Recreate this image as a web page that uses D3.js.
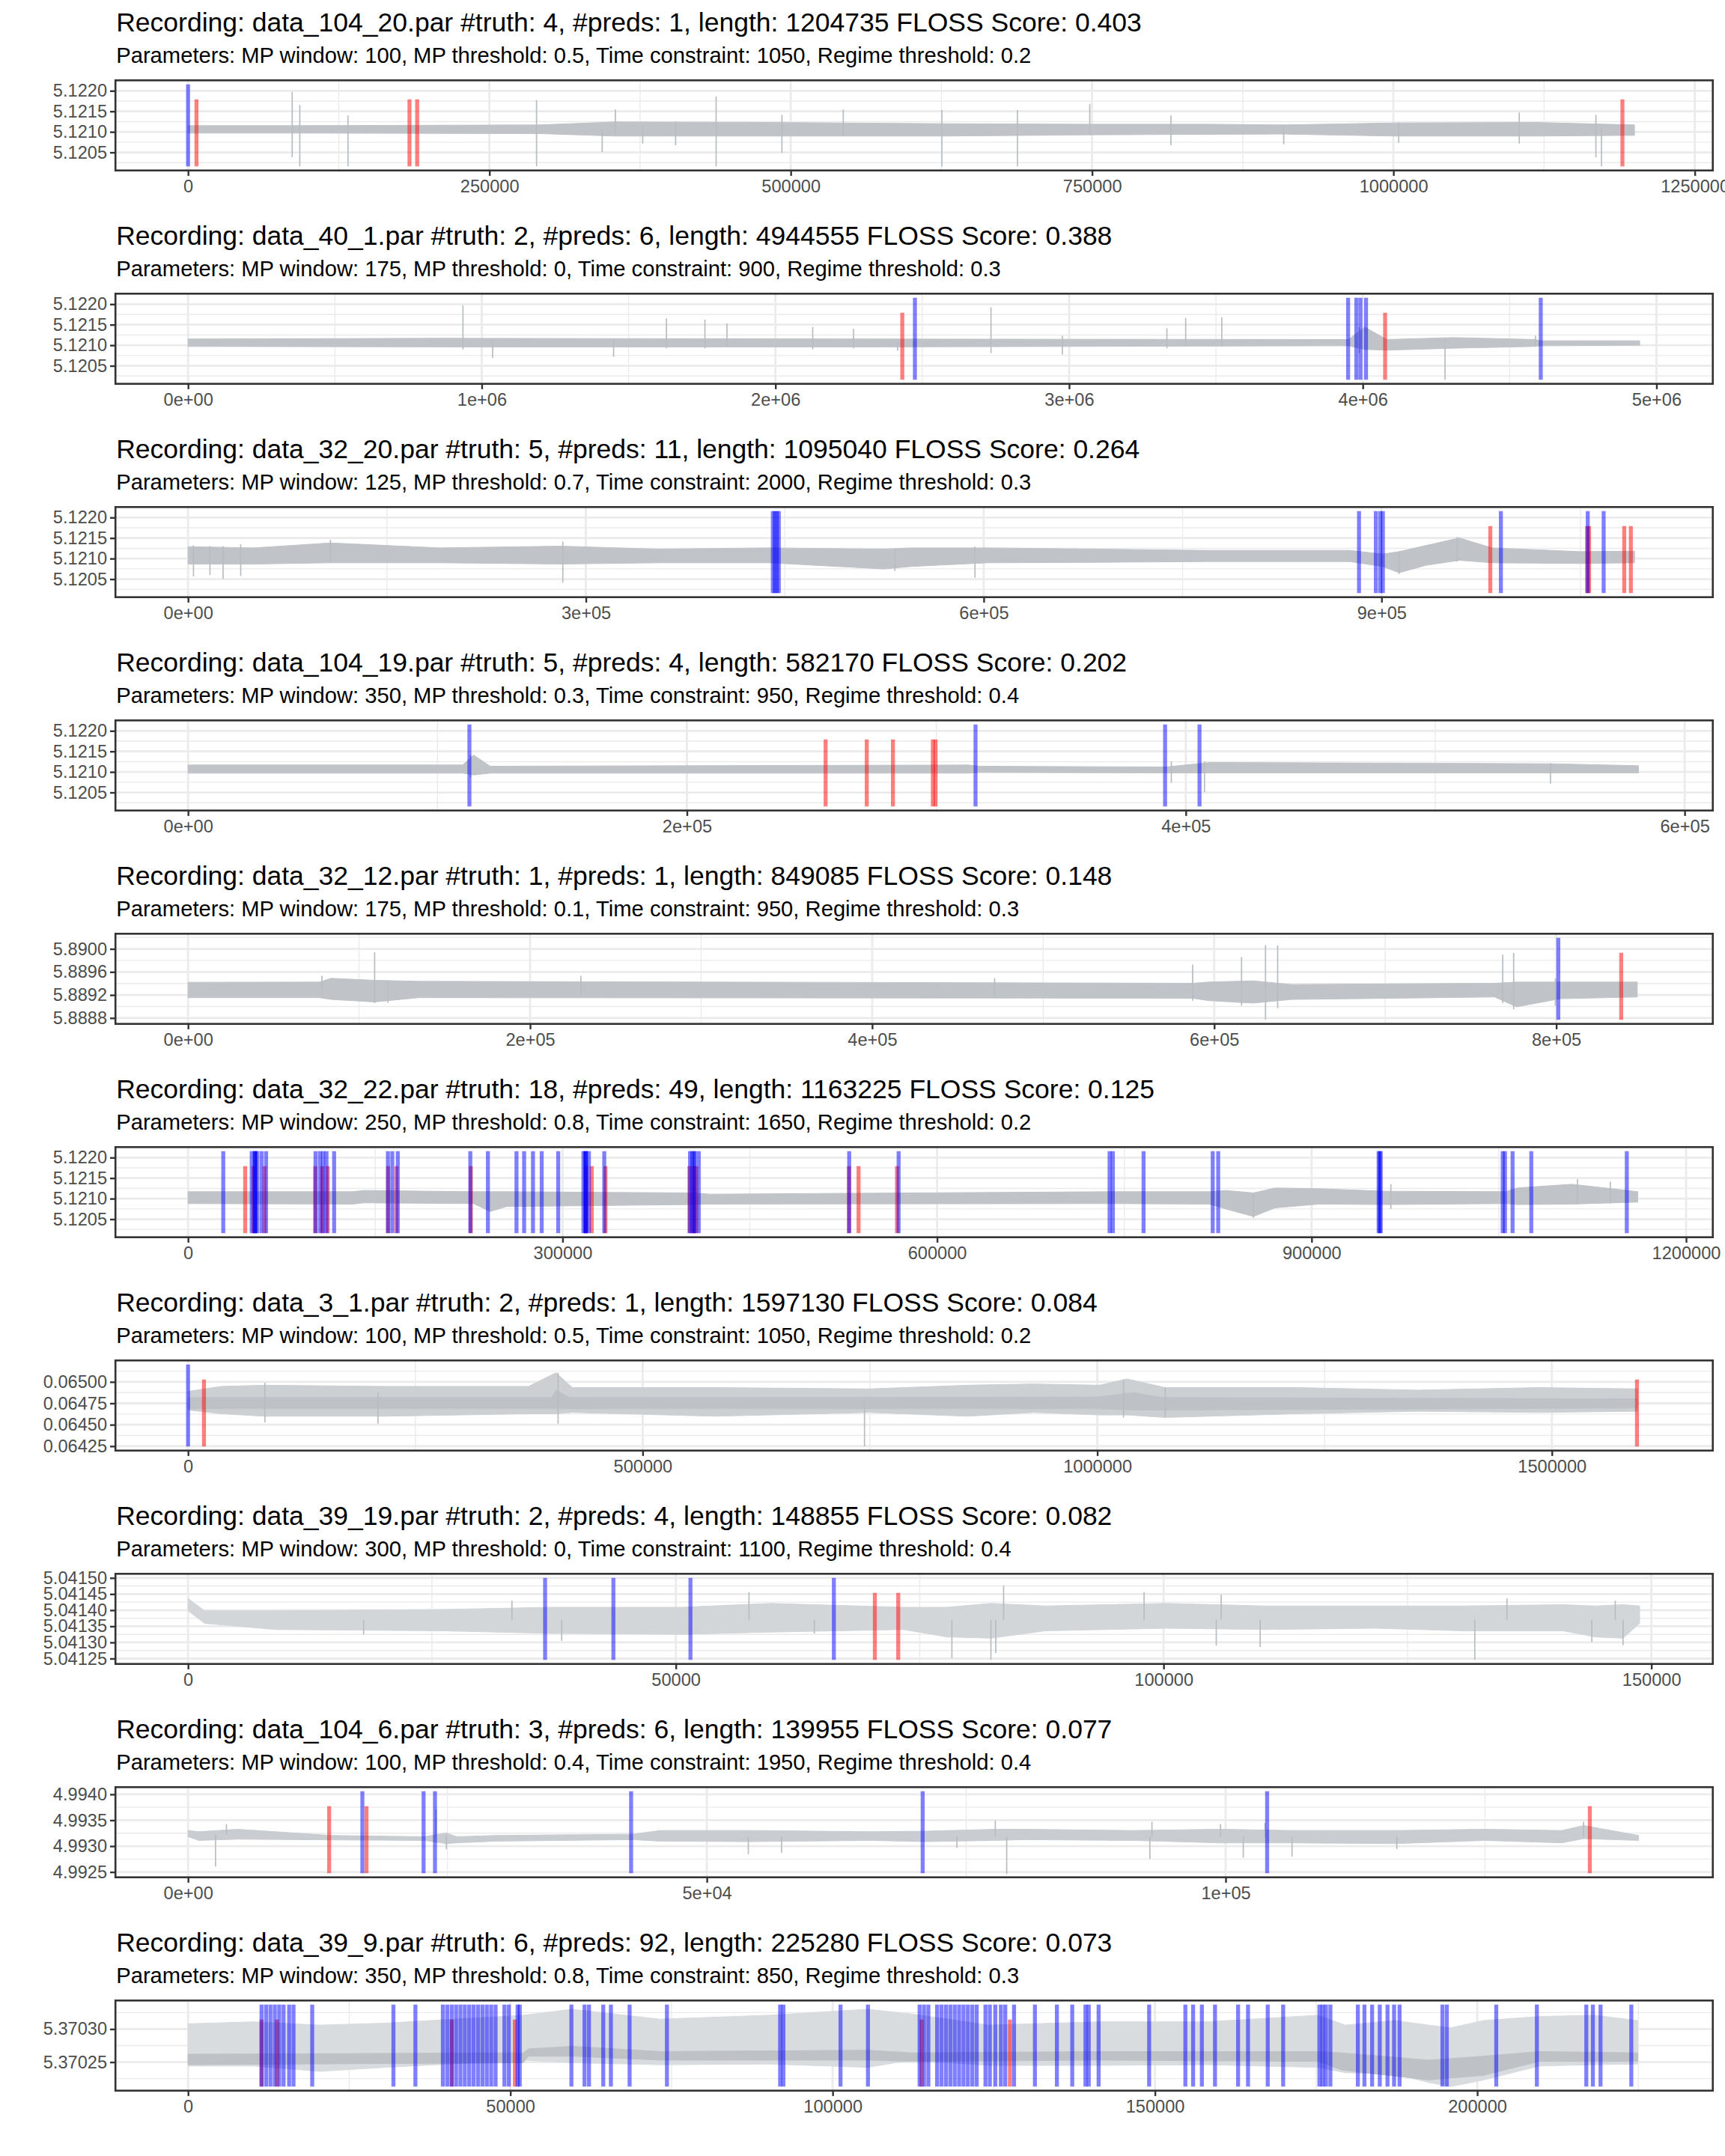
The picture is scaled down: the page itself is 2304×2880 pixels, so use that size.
<!DOCTYPE html>
<html><head><meta charset="utf-8">
<script src="https://cdn.jsdelivr.net/npm/d3@7"></script>
<style>html,body{margin:0;padding:0;background:#fff}svg{display:block}</style>
</head><body>
<svg id="chart" width="2304" height="2880"></svg>
<script>
// ---------------- DATA ----------------
const titles = [
 "Recording: data_104_20.par #truth: 4, #preds: 1, length: 1204735 FLOSS Score: 0.403",
 "Recording: data_40_1.par #truth: 2, #preds: 6, length: 4944555 FLOSS Score: 0.388",
 "Recording: data_32_20.par #truth: 5, #preds: 11, length: 1095040 FLOSS Score: 0.264",
 "Recording: data_104_19.par #truth: 5, #preds: 4, length: 582170 FLOSS Score: 0.202",
 "Recording: data_32_12.par #truth: 1, #preds: 1, length: 849085 FLOSS Score: 0.148",
 "Recording: data_32_22.par #truth: 18, #preds: 49, length: 1163225 FLOSS Score: 0.125",
 "Recording: data_3_1.par #truth: 2, #preds: 1, length: 1597130 FLOSS Score: 0.084",
 "Recording: data_39_19.par #truth: 2, #preds: 4, length: 148855 FLOSS Score: 0.082",
 "Recording: data_104_6.par #truth: 3, #preds: 6, length: 139955 FLOSS Score: 0.077",
 "Recording: data_39_9.par #truth: 6, #preds: 92, length: 225280 FLOSS Score: 0.073"
];
const subtitles = [
 "Parameters: MP window: 100, MP threshold: 0.5, Time constraint: 1050, Regime threshold: 0.2",
 "Parameters: MP window: 175, MP threshold: 0, Time constraint: 900, Regime threshold: 0.3",
 "Parameters: MP window: 125, MP threshold: 0.7, Time constraint: 2000, Regime threshold: 0.3",
 "Parameters: MP window: 350, MP threshold: 0.3, Time constraint: 950, Regime threshold: 0.4",
 "Parameters: MP window: 175, MP threshold: 0.1, Time constraint: 950, Regime threshold: 0.3",
 "Parameters: MP window: 250, MP threshold: 0.8, Time constraint: 1650, Regime threshold: 0.2",
 "Parameters: MP window: 100, MP threshold: 0.5, Time constraint: 1050, Regime threshold: 0.2",
 "Parameters: MP window: 300, MP threshold: 0, Time constraint: 1100, Regime threshold: 0.4",
 "Parameters: MP window: 100, MP threshold: 0.4, Time constraint: 1950, Regime threshold: 0.4",
 "Parameters: MP window: 350, MP threshold: 0.8, Time constraint: 850, Regime threshold: 0.3"
];
const lengths = [1204735, 4944555, 1095040, 582170, 849085, 1163225, 1597130, 148855, 139955, 225280];
// value range covered by the change-point markers
const yLims = [
 [5.12016, 5.122155], [5.12016, 5.122155], [5.12016, 5.122155], [5.12016, 5.122155],
 [5.888769, 5.890192], [5.12016, 5.122155], [0.064246, 0.065202],
 [5.041246, 5.0415], [4.992477, 4.994059], [5.370213, 5.370337]
];
const yTicks = [
 [5.1205, 5.121, 5.1215, 5.122], [5.1205, 5.121, 5.1215, 5.122], [5.1205, 5.121, 5.1215, 5.122],
 [5.1205, 5.121, 5.1215, 5.122], [5.8888, 5.8892, 5.8896, 5.89], [5.1205, 5.121, 5.1215, 5.122],
 [0.06425, 0.0645, 0.06475, 0.065], [5.04125, 5.0413, 5.04135, 5.0414, 5.04145, 5.0415],
 [4.9925, 4.993, 4.9935, 4.994], [5.37025, 5.3703]
];
const yTickLabels = [
 ["5.1205","5.1210","5.1215","5.1220"], ["5.1205","5.1210","5.1215","5.1220"], ["5.1205","5.1210","5.1215","5.1220"],
 ["5.1205","5.1210","5.1215","5.1220"], ["5.8888","5.8892","5.8896","5.8900"], ["5.1205","5.1210","5.1215","5.1220"],
 ["0.06425","0.06450","0.06475","0.06500"], ["5.04125","5.04130","5.04135","5.04140","5.04145","5.04150"],
 ["4.9925","4.9930","4.9935","4.9940"], ["5.37025","5.37030"]
];
const xTicks = [
 [0, 250000, 500000, 750000, 1000000, 1250000], [0, 1e6, 2e6, 3e6, 4e6, 5e6], [0, 3e5, 6e5, 9e5],
 [0, 2e5, 4e5, 6e5], [0, 2e5, 4e5, 6e5, 8e5], [0, 300000, 600000, 900000, 1200000],
 [0, 500000, 1000000, 1500000], [0, 50000, 100000, 150000], [0, 5e4, 1e5], [0, 50000, 100000, 150000, 200000]
];
const xTickLabels = [
 ["0","250000","500000","750000","1000000","1250000"], ["0e+00","1e+06","2e+06","3e+06","4e+06","5e+06"],
 ["0e+00","3e+05","6e+05","9e+05"], ["0e+00","2e+05","4e+05","6e+05"], ["0e+00","2e+05","4e+05","6e+05","8e+05"],
 ["0","300000","600000","900000","1200000"], ["0","500000","1000000","1500000"], ["0","50000","100000","150000"],
 ["0e+00","5e+04","1e+05"], ["0","50000","100000","150000","200000"]
];

// signal envelopes (sample position, lower value, upper value)
const sigX1 = [0, 81800, 290900, 354500, 481800, 627200, 745400, 845400, 909000, 1000000, 1118000, 1200000];
const sigLo1 = [5.12097, 5.12097, 5.120958, 5.120897, 5.120897, 5.120897, 5.120927, 5.12094, 5.120946, 5.120897, 5.120897, 5.120915];
const sigHi1 = [5.121151, 5.121151, 5.121169, 5.121242, 5.12123, 5.1212, 5.121187, 5.121187, 5.121169, 5.121218, 5.12123, 5.121169];
const spkX1 = [86400, 92700, 132700, 289100, 343600, 354500, 377200, 404500, 438100, 492700, 543600, 625400, 688100, 748100, 815400, 909000, 1004400, 1104400, 1168000, 1172600];
const spkLo1 = [5.120383, 5.12016, 5.12016, 5.12016, 5.120504, 5.12093, 5.120716, 5.120674, 5.12016, 5.120492, 5.120897, 5.12016, 5.12016, 5.120927, 5.120674, 5.120698, 5.120734, 5.120716, 5.120383, 5.12016];
const spkHi1 = [5.121973, 5.121653, 5.121399, 5.121774, 5.12105, 5.121544, 5.12117, 5.12126, 5.121865, 5.121411, 5.121544, 5.121532, 5.121532, 5.121683, 5.121399, 5.12117, 5.12123, 5.121472, 5.121411, 5.121109];
const preds1 = [0];
const truth1 = [7000, 183700, 190100, 1190000];

const sigX2 = [0, 861000, 2359000, 3951000, 4007000, 4082000, 4307000, 4588000, 4606000, 4943000];
const sigLo2 = [5.12097, 5.120958, 5.120958, 5.120988, 5.120897, 5.120879, 5.120927, 5.12097, 5.120988, 5.1210];
const sigHi2 = [5.121151, 5.121169, 5.121151, 5.121139, 5.121441, 5.121139, 5.121187, 5.121139, 5.121109, 5.121109];
const spkX2 = [936000, 1037000, 1449000, 1629000, 1760000, 1835000, 2127000, 2266000, 2416000, 2734000, 2977000, 3333000, 3397000, 3520000, 3988000, 4280000, 4588000];
const spkLo2 = [5.120897, 5.120686, 5.120716, 5.120927, 5.120927, 5.12097, 5.120897, 5.120927, 5.120867, 5.120807, 5.120776, 5.120927, 5.12097, 5.12097, 5.120807, 5.12016, 5.12097];
const spkHi2 = [5.121973, 5.121109, 5.121139, 5.121653, 5.121623, 5.121532, 5.121441, 5.121399, 5.121109, 5.121925, 5.12123, 5.121411, 5.121665, 5.121683, 5.121441, 5.121169, 5.12123];
const preds2 = [2475000, 3950000, 3978000, 3992000, 4011000, 4606000];
const truth2 = [2432000, 4076000];

const sigX3 = [0, 49600, 107400, 190100, 281000, 355400, 438000, 524800, 545400, 603300, 686000, 768600, 876000, 900800, 913200, 933800, 958700, 983400, 1049500, 1090800];
const sigLo3 = [5.120867, 5.120867, 5.120897, 5.120897, 5.120867, 5.120897, 5.120897, 5.120746, 5.120807, 5.120897, 5.120909, 5.120927, 5.120927, 5.120807, 5.120655, 5.120837, 5.120958, 5.120897, 5.120879, 5.120897];
const sigHi3 = [5.12129, 5.12126, 5.121381, 5.12126, 5.121302, 5.12123, 5.12126, 5.12123, 5.12126, 5.12126, 5.12123, 5.1212, 5.1212, 5.121109, 5.121169, 5.12132, 5.121502, 5.12126, 5.121169, 5.121181];
const spkX3 = [4100, 16500, 26400, 39700, 107400, 282600, 533000, 593400, 913200, 957000];
const spkLo3 = [5.120565, 5.120595, 5.120504, 5.120577, 5.120897, 5.120414, 5.120698, 5.120534, 5.120625, 5.120927];
const spkHi3 = [5.12132, 5.121302, 5.121302, 5.121351, 5.121459, 5.121411, 5.12123, 5.12129, 5.121169, 5.12152];
const preds3 = [441000, 442500, 444000, 445500, 883000, 895700, 899000, 901000, 990000, 1055500, 1067500];
const truth3 = [982000, 1055000, 1056500, 1083000, 1088000];

const sigX4 = [0, 110100, 114500, 121100, 312800, 317200, 392000, 409700, 546200, 581500];
const sigLo4 = [5.12097, 5.12097, 5.120927, 5.12097, 5.12097, 5.120988, 5.120976, 5.120976, 5.120976, 5.120976];
const sigHi4 = [5.121169, 5.121169, 5.121411, 5.121139, 5.121169, 5.121139, 5.121121, 5.12123, 5.1212, 5.121151];
const spkX4 = [113200, 394200, 407500, 546200];
const spkLo4 = [5.120867, 5.120734, 5.120504, 5.120716];
const spkHi4 = [5.121411, 5.12126, 5.12126, 5.121212];
const preds4 = [112800, 315700, 391700, 405500];
const truth4 = [255600, 272100, 282600, 298600, 299700];

const sigX5 = [0, 77000, 83500, 109100, 134800, 587400, 597000, 622700, 645200, 764000, 776800, 802500, 847400];
const sigLo5 = [5.889153, 5.889153, 5.889122, 5.889079, 5.889153, 5.889144, 5.889101, 5.889058, 5.889122, 5.889165, 5.888993, 5.889135, 5.889165];
const sigHi5 = [5.88942, 5.889424, 5.889489, 5.889455, 5.889437, 5.889403, 5.889424, 5.889446, 5.889381, 5.889403, 5.889424, 5.889424, 5.889424];
const spkX5 = [78300, 109100, 116800, 229700, 471600, 587400, 616000, 630000, 637100, 768700, 775100, 799500];
const spkLo5 = [5.88923, 5.889058, 5.889066, 5.88923, 5.889165, 5.889101, 5.889014, 5.888769, 5.888971, 5.889058, 5.88895, 5.889014];
const spkHi5 = [5.889532, 5.889942, 5.889446, 5.889532, 5.889489, 5.889726, 5.889856, 5.890063, 5.890059, 5.889899, 5.889929, 5.889489];
const preds5 = [801200];
const truth5 = [838000];

const sigX6 = [0, 132000, 140800, 228700, 242000, 255100, 404700, 417900, 739000, 818200, 831400, 853400, 870800, 906200, 959000, 1055700, 1064600, 1108500, 1161300];
const sigLo6 = [5.120879, 5.120867, 5.120897, 5.120879, 5.120686, 5.120807, 5.120855, 5.120867, 5.120879, 5.120867, 5.120746, 5.120565, 5.120776, 5.120867, 5.120855, 5.120879, 5.120855, 5.120867, 5.120915];
const sigHi6 = [5.121169, 5.121169, 5.1212, 5.121169, 5.121169, 5.121169, 5.121139, 5.121109, 5.121169, 5.121169, 5.1212, 5.121139, 5.12126, 5.121242, 5.121181, 5.121169, 5.12126, 5.121351, 5.121169];
const spkX6 = [853400, 963500, 1113000, 1139300];
const spkLo6 = [5.120534, 5.120746, 5.120867, 5.120879];
const spkHi6 = [5.121139, 5.121351, 5.121472, 5.121411];
const preds6 = [28200, 51000, 53400, 53700, 54000, 55400, 58900, 62500, 102100, 105600, 108200, 110900, 117000, 160100, 163600, 168000, 226100, 240200, 263100, 269200, 276300, 283300, 296500, 316700, 318200, 318500, 318800, 321100, 333400, 402100, 403800, 405300, 405900, 409100, 529600, 569200, 738200, 740800, 765400, 820800, 825200, 953700, 954600, 955400, 1053100, 1054900, 1061000, 1076000, 1152500];
const truth6 = [45750, 52400, 61200, 101900, 107400, 111900, 160300, 166900, 226500, 319000, 323400, 334400, 401600, 404900, 407100, 529400, 537100, 567900];

const sigX7 = [0, 36200, 84500, 217400, 374400, 404600, 422700, 579700, 748800, 857500, 930000, 1002400, 1032600, 1074800, 1219800, 1352600, 1485400, 1594200];
const sigLo7 = [0.064672, 0.064628, 0.064599, 0.064599, 0.064628, 0.064628, 0.064643, 0.064599, 0.064643, 0.064599, 0.064643, 0.064614, 0.064614, 0.064585, 0.064628, 0.064657, 0.064643, 0.064657];
const sigHi7 = [0.064889, 0.064947, 0.064961, 0.064947, 0.064947, 0.065106, 0.064933, 0.064933, 0.064918, 0.064961, 0.064976, 0.064961, 0.065034, 0.064933, 0.064933, 0.064904, 0.064933, 0.064918];
const coreX7 = [0, 400000, 404600, 420000, 1000000, 1040000, 1070000, 1594200];
const coreLo7 = [0.064686, 0.064686, 0.064686, 0.064686, 0.064686, 0.064672, 0.064672, 0.064695];
const coreHi7 = [0.064817, 0.064817, 0.064904, 0.064817, 0.064822, 0.064875, 0.064817, 0.064802];
const spkX7 = [84500, 208900, 407000, 744000, 1028900, 1074800];
const spkLo7 = [0.064527, 0.064512, 0.064512, 0.064246, 0.064585, 0.064585];
const spkHi7 = [0.06499, 0.064875, 0.065106, 0.064788, 0.065025, 0.064933];
const preds7 = [0];
const truth7 = [17500, 1593600];

const sigX8 = [0, 1700, 9000, 25900, 37200, 50700, 59700, 73300, 77800, 82300, 87900, 100300, 110400, 121700, 130700, 140900, 144300, 147100, 148800];
const sigLo8 = [5.041398, 5.041359, 5.04134, 5.041336, 5.041328, 5.041325, 5.041332, 5.04134, 5.041317, 5.041313, 5.041336, 5.041344, 5.04134, 5.041344, 5.041336, 5.041336, 5.041317, 5.041313, 5.041359];
const sigHi8 = [5.041436, 5.041398, 5.041398, 5.041402, 5.041409, 5.041409, 5.041421, 5.041409, 5.041409, 5.041421, 5.041413, 5.041421, 5.041413, 5.041413, 5.041413, 5.041417, 5.041413, 5.041417, 5.041413];
const spkX8 = [33200, 57500, 83600, 98000, 105900, 135200, 146300, 78300, 82300, 82800, 105400, 109900, 131900, 143900, 147100, 64200, 18000, 38300];
const spkLo8 = [5.04137, 5.04137, 5.04137, 5.04137, 5.04137, 5.04137, 5.04137, 5.041251, 5.041246, 5.041267, 5.04129, 5.041286, 5.041246, 5.041301, 5.041291, 5.041328, 5.041325, 5.041305];
const spkHi8 = [5.041429, 5.041456, 5.041477, 5.041456, 5.041448, 5.041436, 5.041429, 5.04137, 5.04137, 5.04137, 5.04137, 5.04137, 5.04137, 5.04137, 5.04137, 5.04137, 5.04137, 5.04137];
const preds8 = [36600, 43600, 51500, 66200];
const truth8 = [70400, 72800];

const sigX9 = [0, 1060, 4800, 13800, 22800, 24900, 25900, 29700, 42900, 45500, 54000, 65700, 71000, 77800, 80500, 91100, 99500, 106400, 116500, 125000, 132400, 134500, 139800];
const sigLo9 = [4.993182, 4.99311, 4.993134, 4.99312, 4.99311, 4.993048, 4.993062, 4.993096, 4.993125, 4.993096, 4.993086, 4.99311, 4.993086, 4.99311, 4.993125, 4.99311, 4.993062, 4.993062, 4.993048, 4.99311, 4.993062, 4.993144, 4.99311];
const sigHi9 = [4.993302, 4.993278, 4.993326, 4.993206, 4.993182, 4.993254, 4.993182, 4.993206, 4.99323, 4.993302, 4.993302, 4.993278, 4.993288, 4.993326, 4.993326, 4.993302, 4.993326, 4.993302, 4.993302, 4.993326, 4.993302, 4.993398, 4.993206];
const spkX9 = [2650, 3700, 23900, 24900, 54000, 57200, 74100, 77800, 78900, 92700, 92900, 101700, 99500, 103800, 106400, 116500, 134500];
const spkLo9 = [4.992607, 4.99323, 4.993182, 4.992942, 4.992847, 4.992871, 4.992966, 4.99318, 4.992463, 4.992751, 4.99318, 4.992775, 4.99318, 4.99318, 4.992799, 4.992942, 4.99318];
const spkHi9 = [4.99323, 4.993422, 4.99371, 4.993206, 4.99318, 4.99318, 4.99318, 4.993494, 4.99318, 4.99318, 4.99347, 4.99318, 4.993422, 4.993446, 4.99318, 4.99318, 4.99347];
const preds9 = [16800, 22700, 23800, 42700, 70800, 104000];
const truth9 = [13600, 17200, 135100];

const sigX10 = [0, 10200, 20400, 30600, 52000, 59600, 73200, 90200, 105400, 112200, 124200, 141100, 158100, 175300, 179500, 187200, 192500, 195900, 201000, 209600, 218100, 224900];
const sigLo10 = [5.370244, 5.370244, 5.370236, 5.370242, 5.370253, 5.370249, 5.370246, 5.370247, 5.370242, 5.370253, 5.370245, 5.370245, 5.370246, 5.370242, 5.370234, 5.370232, 5.370219, 5.370213, 5.370223, 5.370244, 5.370246, 5.370247];
const sigHi10 = [5.370308, 5.370311, 5.370306, 5.370309, 5.370321, 5.37033, 5.370315, 5.370321, 5.37033, 5.370323, 5.370306, 5.370311, 5.370311, 5.370321, 5.370306, 5.370313, 5.370306, 5.370302, 5.370313, 5.370319, 5.370321, 5.370313];
const coreX10 = [0, 52000, 52800, 59600, 73200, 105400, 112200, 141100, 175300, 179000, 192500, 201000, 209600, 224900];
const coreLo10 = [5.370246, 5.370249, 5.370259, 5.370259, 5.370253, 5.370253, 5.370251, 5.370253, 5.370251, 5.370238, 5.370223, 5.37023, 5.370251, 5.370251];
const coreHi10 = [5.370262, 5.370264, 5.37027, 5.370274, 5.370266, 5.370268, 5.370264, 5.370266, 5.370266, 5.370264, 5.370253, 5.370259, 5.370266, 5.370264];
const spkX10 = [], spkLo10 = [], spkHi10 = [];
const preds10 = [11400, 12100, 12780, 13460, 14140, 14820, 15680, 16360, 19260, 31860, 35270, 39530, 40210, 40900, 41580, 42260, 42940, 43620, 44300, 44990, 45670, 46350, 47030, 47710, 49080, 49760, 51120, 51460, 59470, 61510, 62200, 64410, 65600, 68500, 74290, 91850, 92360, 101220, 105480, 113490, 114170, 114850, 116210, 116890, 117580, 118260, 118940, 119620, 120300, 120980, 121670, 122350, 123710, 124390, 125240, 126100, 126780, 128140, 131380, 134790, 137170, 139220, 139730, 141260, 149100, 154720, 155920, 157280, 159320, 162900, 164440, 167500, 169890, 175510, 176020, 176530, 177220, 181480, 182500, 183690, 184880, 186080, 187100, 187950, 194600, 195280, 202950, 209250, 216920, 217940, 219130, 223900];
const truth10 = [11400, 13800, 40900, 50700, 113800, 127500];

// ---------------- BUILD ----------------
const zip3 = (a, b, c) => a.map((v, i) => ({x: v, lo: b[i], hi: c[i]}));
const sigs = [
 [sigX1,sigLo1,sigHi1],[sigX2,sigLo2,sigHi2],[sigX3,sigLo3,sigHi3],[sigX4,sigLo4,sigHi4],[sigX5,sigLo5,sigHi5],
 [sigX6,sigLo6,sigHi6],[sigX7,sigLo7,sigHi7],[sigX8,sigLo8,sigHi8],[sigX9,sigLo9,sigHi9],[sigX10,sigLo10,sigHi10]
].map(s => zip3(...s));
const spikes = [
 [spkX1,spkLo1,spkHi1],[spkX2,spkLo2,spkHi2],[spkX3,spkLo3,spkHi3],[spkX4,spkLo4,spkHi4],[spkX5,spkLo5,spkHi5],
 [spkX6,spkLo6,spkHi6],[spkX7,spkLo7,spkHi7],[spkX8,spkLo8,spkHi8],[spkX9,spkLo9,spkHi9],[spkX10,spkLo10,spkHi10]
].map(s => zip3(...s));
const cores = [null,null,null,null,null,null, zip3(coreX7, coreLo7, coreHi7), null,null, zip3(coreX10, coreLo10, coreHi10)];
const preds = [preds1,preds2,preds3,preds4,preds5,preds6,preds7,preds8,preds9,preds10];
const truths = [truth1,truth2,truth3,truth4,truth5,truth6,truth7,truth8,truth9,truth10];

// ---------------- STYLE / LAYOUT ----------------
const FONT = "'Liberation Sans', Arial, Helvetica, sans-serif";
const PITCH = 285, PANEL_TOP = 107.3, PANEL_H = 120.4, PANEL_L = 154.2, PANEL_R = 2287.7;
const TICK_LEN = 7.2, TICK_GAP = 5, TICK_FS = 23.6;
const bandFill = ["#c0c4c8","#c0c4c8","#c0c4c8","#c0c4c8","#c0c4c8","#c0c4c8","#ccd0d3","#d3d6d9","#c9cdd1","#d9dcdf"];
const gridCol = "#ebebeb";

const svg = d3.select("#chart");
svg.append("rect").attr("width", 2304).attr("height", 2880).attr("fill", "#fff");

function minorBreaks(ticks, dom) {
  const step = ticks[1] - ticks[0];
  const out = [ticks[0] - step / 2];
  for (let i = 0; i < ticks.length - 1; i++) out.push((ticks[i] + ticks[i + 1]) / 2);
  out.push(ticks[ticks.length - 1] + step / 2);
  const lo = Math.min(...dom), hi = Math.max(...dom);
  return out.filter(v => v >= lo && v <= hi);
}

titles.forEach((title, i) => {
  const g = svg.append("g").attr("transform", `translate(0,${i * PITCH})`);
  const top = PANEL_TOP, bottom = PANEL_TOP + PANEL_H;
  const L = lengths[i];
  const x = d3.scaleLinear().domain([-0.05 * L, 1.05 * L]).range([PANEL_L, PANEL_R]);
  const [ylo, yhi] = yLims[i];
  const r = yhi - ylo;
  const y = d3.scaleLinear().domain([ylo - 0.05 * r, yhi + 0.05 * r]).range([bottom, top]);

  g.append("text").attr("x", PANEL_L + 1).attr("y", 41.7).attr("font-family", FONT)
    .attr("font-size", 35.5).attr("fill", "#000").text(title);
  g.append("text").attr("x", PANEL_L + 1).attr("y", 84).attr("font-family", FONT)
    .attr("font-size", 29.2).attr("fill", "#000").text(subtitles[i]);

  const clipId = "clip" + i;
  g.append("clipPath").attr("id", clipId).append("rect")
    .attr("x", PANEL_L).attr("y", top).attr("width", PANEL_R - PANEL_L).attr("height", PANEL_H);
  const p = g.append("g").attr("clip-path", `url(#${clipId})`);

  // grid
  const xMinor = minorBreaks(xTicks[i], x.domain());
  const yMinor = minorBreaks(yTicks[i], y.domain());
  p.selectAll(".gxm").data(xMinor).join("line").attr("x1", d => x(d)).attr("x2", d => x(d))
    .attr("y1", top).attr("y2", bottom).attr("stroke", gridCol).attr("stroke-width", 1.4);
  p.selectAll(".gym").data(yMinor).join("line").attr("y1", d => y(d)).attr("y2", d => y(d))
    .attr("x1", PANEL_L).attr("x2", PANEL_R).attr("stroke", gridCol).attr("stroke-width", 1.4);
  p.selectAll(".gx").data(xTicks[i]).join("line").attr("x1", d => x(d)).attr("x2", d => x(d))
    .attr("y1", top).attr("y2", bottom).attr("stroke", gridCol).attr("stroke-width", 2.8);
  p.selectAll(".gy").data(yTicks[i]).join("line").attr("y1", d => y(d)).attr("y2", d => y(d))
    .attr("x1", PANEL_L).attr("x2", PANEL_R).attr("stroke", gridCol).attr("stroke-width", 2.8);

  // signal
  const area = d3.area().x(d => x(d.x)).y0(d => y(d.lo)).y1(d => y(d.hi));
  p.append("path").datum(sigs[i]).attr("d", area).attr("fill", bandFill[i])
    .attr("stroke", bandFill[i]).attr("stroke-width", 1);
  if (cores[i]) {
    p.append("path").datum(cores[i]).attr("d", area).attr("fill", "#bec2c6").attr("stroke", "#bec2c6").attr("stroke-width", 1);
  }
  p.selectAll(".spk").data(spikes[i]).join("line")
    .attr("x1", d => x(d.x)).attr("x2", d => x(d.x)).attr("y1", d => y(d.lo)).attr("y2", d => y(d.hi))
    .attr("stroke", "#b8bdc2").attr("stroke-width", 1.7);

  // truth (red) and predictions (blue)
  const redTop = ylo + r * 0.9 / 1.1;
  p.selectAll(".tr").data(truths[i]).join("line")
    .attr("x1", d => x(d)).attr("x2", d => x(d)).attr("y1", y(ylo)).attr("y2", y(redTop))
    .attr("stroke", "#ff0000").attr("stroke-opacity", 0.5).attr("stroke-width", 5.3);
  p.selectAll(".pr").data(preds[i]).join("line")
    .attr("x1", d => x(d)).attr("x2", d => x(d)).attr("y1", y(ylo)).attr("y2", y(yhi))
    .attr("stroke", "#0000ff").attr("stroke-opacity", 0.5).attr("stroke-width", 5.3);

  // border
  g.append("rect").attr("x", PANEL_L).attr("y", top).attr("width", PANEL_R - PANEL_L).attr("height", PANEL_H)
    .attr("fill", "none").attr("stroke", "#333333").attr("stroke-width", 2.6);

  // axes
  const xAxis = d3.axisBottom(x).tickValues(xTicks[i]).tickFormat((d, k) => xTickLabels[i][k])
    .tickSizeInner(TICK_LEN).tickSizeOuter(0).tickPadding(TICK_GAP);
  const gx = g.append("g").attr("transform", `translate(0,${bottom})`).call(xAxis);
  gx.select(".domain").remove();
  gx.selectAll(".tick line").attr("stroke", "#333333").attr("stroke-width", 2.4);
  gx.selectAll(".tick text").attr("font-family", FONT).attr("font-size", TICK_FS).attr("fill", "#4d4d4d");

  const yAxis = d3.axisLeft(y).tickValues(yTicks[i]).tickFormat((d, k) => yTickLabels[i][k])
    .tickSizeInner(TICK_LEN).tickSizeOuter(0).tickPadding(TICK_GAP - 1);
  const gy = g.append("g").attr("transform", `translate(${PANEL_L},0)`).call(yAxis);
  gy.select(".domain").remove();
  gy.selectAll(".tick line").attr("stroke", "#333333").attr("stroke-width", 2.4);
  gy.selectAll(".tick text").attr("font-family", FONT).attr("font-size", TICK_FS).attr("fill", "#4d4d4d");
});
</script>
</body></html>
